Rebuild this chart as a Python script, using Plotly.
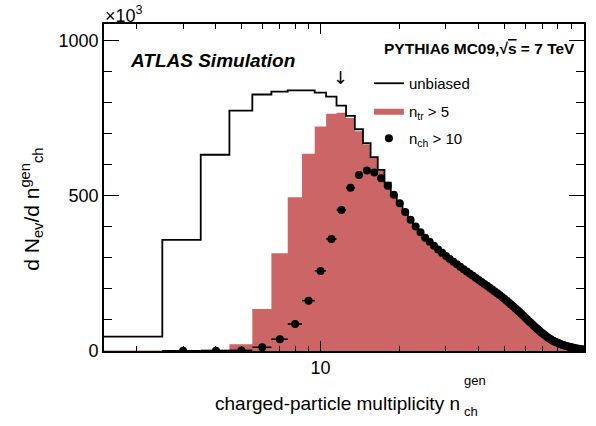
import numpy as np
import plotly.graph_objects as go

# ---------------- data ----------------
# generated charged-particle multiplicity bins (integer n), low part
n_low = list(range(2, 19))
unbiased_low = [46, 358, 632, 774, 826, 835, 839, 839, 832, 819, 790, 757, 714, 669, 624, 583, 542]
ntr5_low = [2, 3, 5, 22, 135, 315, 495, 635, 723, 764, 767, 750, 708, 664, 622, 582, 542]
nch10_n = list(range(3, 19))
nch10_low = [0.5, 1, 2, 12, 38, 87, 162, 258, 361, 454, 526, 567, 581, 575, 556, 532]

# high-multiplicity tail, where all three selections coincide (n = 19 .. 100)
n_tail = list(range(19, 101))
tail = [503, 476, 448, 423, 401, 382, 365, 352, 339, 327, 316, 306, 296, 287, 279, 271,
        263, 256, 249, 242, 235, 229, 222, 216, 210, 204, 198, 192, 186, 180, 174, 168,
        162, 156, 150, 144, 138, 132, 126, 120, 114, 108, 102, 96, 91, 85, 80, 75,
        70, 65, 60, 56, 52, 48, 44, 41, 38, 35, 32, 30, 28, 26, 24, 22,
        20, 19, 17, 16, 15, 14, 13, 12, 11, 10, 9, 8, 7.5, 7, 6, 5.5, 5, 4.5]

n_all = n_low + n_tail
unbiased = unbiased_low + tail
ntr5 = ntr5_low + tail
nch_x = nch10_n + n_tail
nch_y = nch10_low + tail

x_ticks_major = [10]
x_ticks_minor = [2, 3, 4, 5, 6, 7, 8, 9, 20, 30, 40, 50, 60, 70, 80, 90]
y_ticks_major = [0, 500, 1000]
arrow_n = 11.9
arrow_y = 880

# ---------------- helpers ----------------
W, H = 596, 426
ML, MR, MT, MB = 104, 10, 24, 75
PW, PH = W - ML - MR, H - MT - MB


def px2x(px):
    return (px - ML) / PW


def px2y(py):
    return (H - MB - py) / PH


def step(ns, vals):
    xs = [k - 0.5 for k in ns] + [ns[-1] + 0.5]
    ys = list(vals) + [vals[-1]]
    return xs, ys


FONT = "Liberation Sans"
RED = "#CC6666"
NB = "\u00a0"

fig = go.Figure()

sx, sy = step(n_all, ntr5)
fig.add_trace(go.Scatter(
    x=sx, y=sy, mode="lines", line=dict(shape="hv", width=0, color=RED),
    fill="tozeroy", fillcolor=RED, name="n<sub>tr</sub> > 5",
    legendgroup="b", legendrank=2, hoverinfo="skip"))

ux, uy = step(n_all, unbiased)
fig.add_trace(go.Scatter(
    x=ux, y=uy, mode="lines", line=dict(shape="hv", width=1.8, color="black"),
    name="unbiased", legendgroup="a", legendrank=1, hoverinfo="skip"))

fig.add_trace(go.Scatter(
    x=nch_x, y=nch_y, mode="markers",
    marker=dict(size=8, color="black", symbol="circle"),
    error_x=dict(type="data", array=[0.5] * len(nch_x), symmetric=True,
                 color="black", thickness=1.6, width=0),
    name="n<sub>ch</sub> > 10", legendgroup="c", legendrank=3))

fig.update_layout(
    width=W, height=H,
    margin=dict(l=ML, r=MR, t=MT, b=MB),
    plot_bgcolor="white", paper_bgcolor="white",
    font=dict(family=FONT, color="black", size=18),
    showlegend=True,
    legend=dict(x=px2x(370), y=px2y(67), xanchor="left", yanchor="top",
                bgcolor="rgba(0,0,0,0)", font=dict(size=15, family=FONT),
                tracegroupgap=5, itemwidth=30),
)

fig.update_xaxes(
    type="log", range=[np.log10(1.5), np.log10(100.5)],
    tickmode="array", tickvals=x_ticks_major, ticktext=[str(v) for v in x_ticks_major],
    ticks="inside", ticklen=10, tickwidth=1.3, tickcolor="black",
    showline=True, linewidth=1.6, linecolor="black", mirror="ticks",
    showgrid=False, zeroline=False, tickfont=dict(size=18, family=FONT),
    minor=dict(tickmode="array", tickvals=x_ticks_minor, ticks="inside", ticklen=5,
               tickwidth=1.2, tickcolor="black", showgrid=False),
)
fig.update_yaxes(
    range=[0, 1053], tickmode="array", tickvals=y_ticks_major,
    ticks="inside", ticklen=15, tickwidth=1.3, tickcolor="black",
    showline=True, linewidth=1.6, linecolor="black", mirror="ticks",
    showgrid=False, zeroline=False, tickfont=dict(size=18, family=FONT),
    minor=dict(dtick=100, tick0=0, ticks="inside", ticklen=8, tickwidth=1.2,
               tickcolor="black", showgrid=False),
)

ann = []
# y title (one rotated text)
ann.append(dict(text="d" + NB + "N<sub>ev</sub>/d" + NB + "n<sup>gen</sup><sub>ch</sub>",
                xref="paper", yref="paper",
                x=px2x(31), y=px2y(273), xanchor="center", yanchor="bottom",
                textangle=-90, showarrow=False, font=dict(size=21, family=FONT)))
ann.append(dict(text="<b><i>ATLAS Simulation</i></b>", xref="paper", yref="paper",
                x=px2x(128), y=px2y(60), xanchor="left", yanchor="middle",
                showarrow=False, font=dict(size=19, family=FONT)))
ann.append(dict(text="<b>PYTHIA6 MC09,√<span style='text-decoration:overline'>s</span> = 7 TeV</b>",
                xref="paper", yref="paper", x=px2x(579), y=px2y(48),
                xanchor="right", yanchor="middle", showarrow=False,
                font=dict(size=15.5, family=FONT)))
ann.append(dict(text="↓", xref="x", yref="y", x=np.log10(arrow_n), y=arrow_y,
                xanchor="center", yanchor="middle", showarrow=False,
                font=dict(size=18, family="DejaVu Sans")))
ann.append(dict(text="×10<sup>3</sup>", xref="paper", yref="paper",
                x=px2x(103), y=px2y(14), xanchor="left", yanchor="middle",
                showarrow=False, font=dict(size=18, family=FONT)))
# x title
ann.append(dict(text="charged-particle multiplicity n", xref="paper", yref="paper",
                x=px2x(463), y=px2y(403), xanchor="right", yanchor="middle",
                showarrow=False, font=dict(size=19, family=FONT)))
ann.append(dict(text="gen", xref="paper", yref="paper",
                x=px2x(463), y=px2y(381), xanchor="left", yanchor="middle",
                showarrow=False, font=dict(size=13, family=FONT)))
ann.append(dict(text="ch", xref="paper", yref="paper",
                x=px2x(463), y=px2y(411), xanchor="left", yanchor="middle",
                showarrow=False, font=dict(size=13, family=FONT)))
fig.update_layout(annotations=ann)

fig.write_html("out.html", config={"displayModeBar": False},
               post_script="document.body.style.margin='0px';")
